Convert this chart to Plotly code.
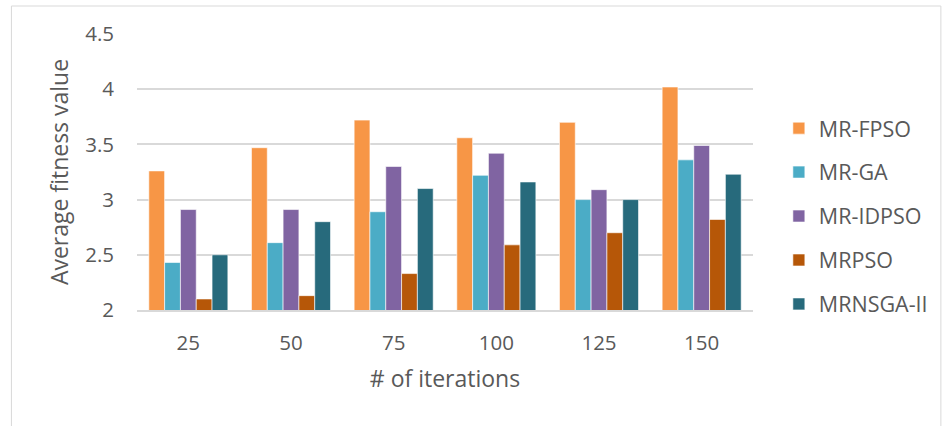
import plotly.graph_objects as go

# Iteration counts on the x axis
iterations = ["25", "50", "75", "100", "125", "150"]

# Average fitness value per algorithm
mr_fpso = [3.26, 3.47, 3.72, 3.56, 3.70, 4.02]
mr_ga = [2.43, 2.61, 2.89, 3.22, 3.00, 3.36]
mr_idpso = [2.91, 2.91, 3.30, 3.42, 3.09, 3.49]
mrpso = [2.10, 2.13, 2.33, 2.59, 2.70, 2.82]
mrnsga_ii = [2.50, 2.80, 3.10, 3.16, 3.00, 3.23]

y_ticks = [2, 2.5, 3, 3.5, 4, 4.5]
y_tick_text = ["2", "2.5", "3", "3.5", "4", "4.5"]

series = [
    ("MR-FPSO", mr_fpso, "#F79646"),
    ("MR-GA", mr_ga, "#4BACC6"),
    ("MR-IDPSO", mr_idpso, "#8064A2"),
    ("MRPSO", mrpso, "#B65708"),
    ("MRNSGA-II", mrnsga_ii, "#276A7C"),
]

text_color = "#595959"
grid_color = "#D9D9D9"
font_family = "Open Sans, Noto Sans, sans-serif"

fig = go.Figure()
for name, values, color in series:
    fig.add_trace(go.Bar(
        x=iterations,
        y=values,
        name=name,
        legendgroup=name,
        marker=dict(color=color, line=dict(color="rgba(255,255,255,0.6)", width=1)),
    ))

fig.update_layout(
    width=945,
    height=426,
    margin=dict(l=137, r=185, t=34, b=116),
    paper_bgcolor="white",
    plot_bgcolor="white",
    barmode="group",
    bargap=0.23,
    bargroupgap=0,
    font=dict(family=font_family, color=text_color, size=20),
    legend=dict(
        x=1.042,
        y=0.34,
        xanchor="left",
        yanchor="middle",
        font=dict(size=21.5, color=text_color),
        tracegroupgap=13,
        bgcolor="rgba(0,0,0,0)",
    ),
    xaxis=dict(
        type="category",
        showgrid=False,
        showline=True,
        linecolor=grid_color,
        linewidth=1.5,
        ticks="",
        ticklabelstandoff=14,
        tickfont=dict(size=20.5, color=text_color),
        title=dict(text="# of iterations", font=dict(size=23, color=text_color), standoff=16),
    ),
    yaxis=dict(
        range=[2, 4.5],
        tickvals=y_ticks,
        ticktext=y_tick_text,
        showgrid=True,
        gridcolor=grid_color,
        gridwidth=1.5,
        zeroline=False,
        showline=False,
        ticks="",
        ticklabelstandoff=22,
        tickfont=dict(size=20.5, color=text_color),
        title=dict(text="Average fitness value", font=dict(size=23, color=text_color), standoff=10),
    ),
    shapes=[
        dict(
            type="rect",
            xref="paper",
            yref="paper",
            x0=(10 - 137) / 623,
            x1=(950 - 137) / 623,
            y0=(310 - 440) / 276,
            y1=(310 - 6) / 276,
            line=dict(color=grid_color, width=1),
            fillcolor="rgba(0,0,0,0)",
            layer="below",
        )
    ],
)

fig.write_html("out.html")
